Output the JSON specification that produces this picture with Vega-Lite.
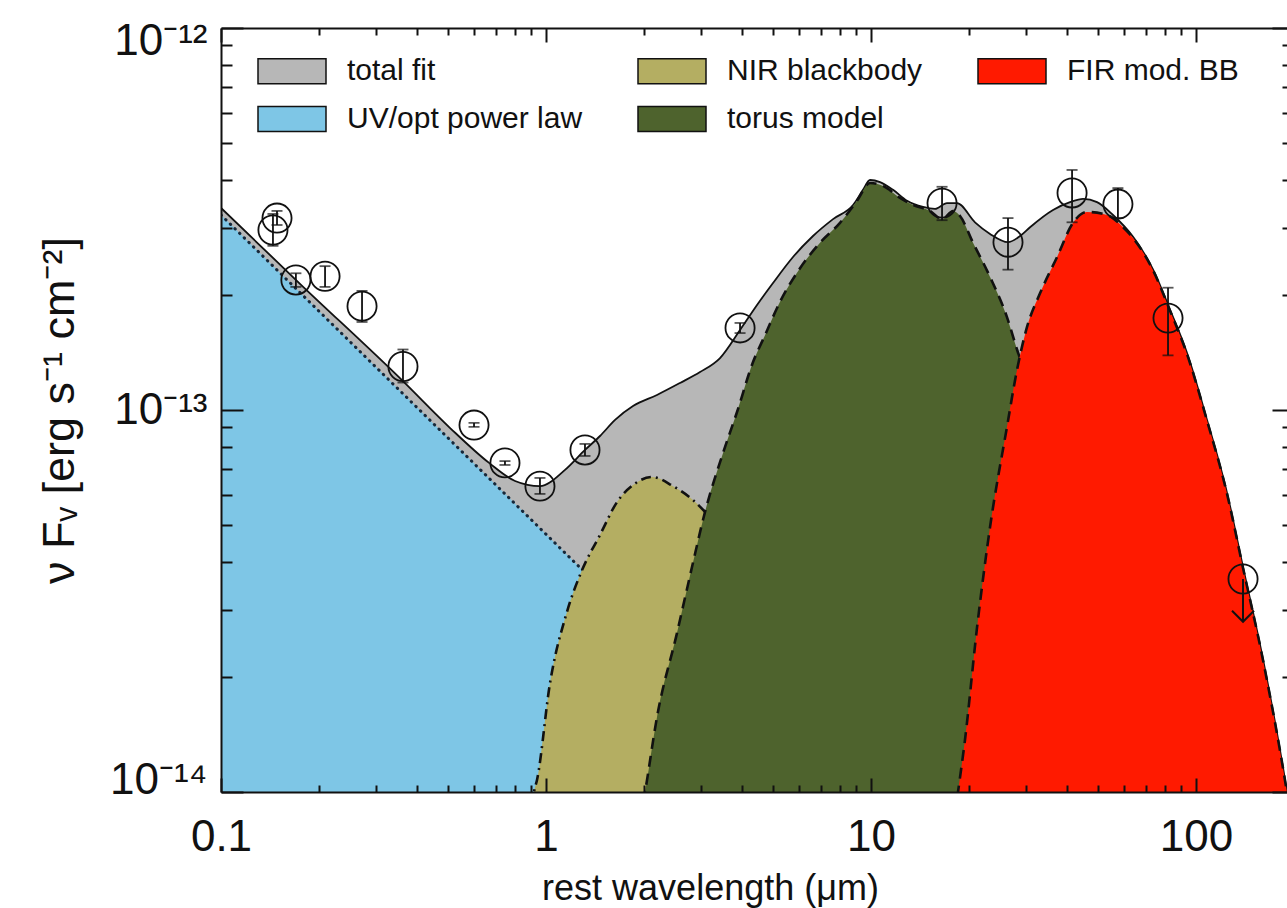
{
  "$schema": "https://vega.github.io/schema/vega-lite/v6.json",
  "width": 1066,
  "height": 764,
  "autosize": {"type": "none"},
  "padding": {"left": 221, "top": 28, "right": 0, "bottom": 116},
  "background": "white",
  "config": {"view": {"stroke": null}, "font": "Liberation Sans"},
  "datasets": {
    "curves": [
      {"comp": "total fit", "lam": 0.1, "f": 3.38e-13},
      {"comp": "total fit", "lam": 0.175, "f": 2.14e-13},
      {"comp": "total fit", "lam": 0.363, "f": 1.19e-13},
      {"comp": "total fit", "lam": 0.507, "f": 8.97e-14},
      {"comp": "total fit", "lam": 0.668, "f": 7.27e-14},
      {"comp": "total fit", "lam": 0.803, "f": 6.52e-14},
      {"comp": "total fit", "lam": 0.958, "f": 6.32e-14},
      {"comp": "total fit", "lam": 1.144, "f": 6.97e-14},
      {"comp": "total fit", "lam": 1.318, "f": 7.86e-14},
      {"comp": "total fit", "lam": 1.466, "f": 8.55e-14},
      {"comp": "total fit", "lam": 1.631, "f": 9.42e-14},
      {"comp": "total fit", "lam": 1.852, "f": 1.024e-13},
      {"comp": "total fit", "lam": 2.195, "f": 1.095e-13},
      {"comp": "total fit", "lam": 2.584, "f": 1.177e-13},
      {"comp": "total fit", "lam": 2.977, "f": 1.257e-13},
      {"comp": "total fit", "lam": 3.431, "f": 1.368e-13},
      {"comp": "total fit", "lam": 3.954, "f": 1.62e-13},
      {"comp": "total fit", "lam": 4.459, "f": 1.883e-13},
      {"comp": "total fit", "lam": 4.994, "f": 2.15e-13},
      {"comp": "total fit", "lam": 5.754, "f": 2.515e-13},
      {"comp": "total fit", "lam": 6.629, "f": 2.854e-13},
      {"comp": "total fit", "lam": 7.641, "f": 3.16e-13},
      {"comp": "total fit", "lam": 8.805, "f": 3.44e-13},
      {"comp": "total fit", "lam": 9.449, "f": 3.77e-13},
      {"comp": "total fit", "lam": 9.929, "f": 4.0e-13},
      {"comp": "total fit", "lam": 10.66, "f": 3.95e-13},
      {"comp": "total fit", "lam": 11.69, "f": 3.77e-13},
      {"comp": "total fit", "lam": 12.91, "f": 3.53e-13},
      {"comp": "total fit", "lam": 14.45, "f": 3.40e-13},
      {"comp": "total fit", "lam": 15.74, "f": 3.36e-13},
      {"comp": "total fit", "lam": 17.13, "f": 3.48e-13},
      {"comp": "total fit", "lam": 18.39, "f": 3.48e-13},
      {"comp": "total fit", "lam": 20.89, "f": 3.10e-13},
      {"comp": "total fit", "lam": 23.24, "f": 2.89e-13},
      {"comp": "total fit", "lam": 26.39, "f": 2.75e-13},
      {"comp": "total fit", "lam": 28.74, "f": 2.854e-13},
      {"comp": "total fit", "lam": 30.85, "f": 3.01e-13},
      {"comp": "total fit", "lam": 36.31, "f": 3.34e-13},
      {"comp": "total fit", "lam": 40.96, "f": 3.50e-13},
      {"comp": "total fit", "lam": 44.91, "f": 3.57e-13},
      {"comp": "total fit", "lam": 49.59, "f": 3.50e-13},
      {"comp": "total fit", "lam": 55.53, "f": 3.24e-13},
      {"comp": "total fit", "lam": 64.01, "f": 2.84e-13},
      {"comp": "total fit", "lam": 73.77, "f": 2.33e-13},
      {"comp": "total fit", "lam": 83.18, "f": 1.83e-13},
      {"comp": "total fit", "lam": 93.83, "f": 1.41e-13},
      {"comp": "total fit", "lam": 108.1, "f": 9.42e-14},
      {"comp": "total fit", "lam": 124.6, "f": 6.06e-14},
      {"comp": "total fit", "lam": 139.5, "f": 3.88e-14},
      {"comp": "total fit", "lam": 160.8, "f": 2.22e-14},
      {"comp": "total fit", "lam": 190.5, "f": 1.0e-14},
      {"comp": "total fit", "lam": 208.9, "f": 5.9e-15},

      {"comp": "UV/opt power law", "lam": 0.1, "f": 3.24e-13},
      {"comp": "UV/opt power law", "lam": 1.0, "f": 4.73e-14},
      {"comp": "UV/opt power law", "lam": 2.5, "f": 2.20e-14},

      {"comp": "NIR blackbody", "lam": 0.8805, "f": 7.05e-15},
      {"comp": "NIR blackbody", "lam": 0.9185, "f": 1.0e-14},
      {"comp": "NIR blackbody", "lam": 0.9382, "f": 1.075e-14},
      {"comp": "NIR blackbody", "lam": 1.029, "f": 1.93e-14},
      {"comp": "NIR blackbody", "lam": 1.16, "f": 2.96e-14},
      {"comp": "NIR blackbody", "lam": 1.291, "f": 3.81e-14},
      {"comp": "NIR blackbody", "lam": 1.466, "f": 4.71e-14},
      {"comp": "NIR blackbody", "lam": 1.654, "f": 5.74e-14},
      {"comp": "NIR blackbody", "lam": 1.852, "f": 6.36e-14},
      {"comp": "NIR blackbody", "lam": 2.12, "f": 6.68e-14},
      {"comp": "NIR blackbody", "lam": 2.459, "f": 6.32e-14},
      {"comp": "NIR blackbody", "lam": 2.834, "f": 5.81e-14},
      {"comp": "NIR blackbody", "lam": 3.085, "f": 5.41e-14},
      {"comp": "NIR blackbody", "lam": 3.431, "f": 4.85e-14},
      {"comp": "NIR blackbody", "lam": 3.954, "f": 4.15e-14},
      {"comp": "NIR blackbody", "lam": 4.89, "f": 3.18e-14},
      {"comp": "NIR blackbody", "lam": 6.047, "f": 2.22e-14},
      {"comp": "NIR blackbody", "lam": 7.478, "f": 1.45e-14},
      {"comp": "NIR blackbody", "lam": 9.25, "f": 8.97e-15},

      {"comp": "torus model", "lam": 1.946, "f": 8.45e-15},
      {"comp": "torus model", "lam": 2.017, "f": 1.0e-14},
      {"comp": "torus model", "lam": 2.195, "f": 1.57e-14},
      {"comp": "torus model", "lam": 2.53, "f": 2.61e-14},
      {"comp": "torus model", "lam": 2.813, "f": 3.88e-14},
      {"comp": "torus model", "lam": 3.085, "f": 5.41e-14},
      {"comp": "torus model", "lam": 3.505, "f": 7.72e-14},
      {"comp": "torus model", "lam": 3.87, "f": 9.88e-14},
      {"comp": "torus model", "lam": 4.335, "f": 1.335e-13},
      {"comp": "torus model", "lam": 4.719, "f": 1.57e-13},
      {"comp": "torus model", "lam": 5.248, "f": 1.92e-13},
      {"comp": "torus model", "lam": 6.047, "f": 2.35e-13},
      {"comp": "torus model", "lam": 6.967, "f": 2.74e-13},
      {"comp": "torus model", "lam": 8.027, "f": 3.09e-13},
      {"comp": "torus model", "lam": 9.056, "f": 3.53e-13},
      {"comp": "torus model", "lam": 9.929, "f": 3.93e-13},
      {"comp": "torus model", "lam": 10.89, "f": 3.86e-13},
      {"comp": "torus model", "lam": 12.28, "f": 3.59e-13},
      {"comp": "torus model", "lam": 13.47, "f": 3.44e-13},
      {"comp": "torus model", "lam": 15.19, "f": 3.32e-13},
      {"comp": "torus model", "lam": 16.54, "f": 3.16e-13},
      {"comp": "torus model", "lam": 17.88, "f": 3.32e-13},
      {"comp": "torus model", "lam": 18.79, "f": 3.22e-13},
      {"comp": "torus model", "lam": 20.6, "f": 2.74e-13},
      {"comp": "torus model", "lam": 23.24, "f": 2.23e-13},
      {"comp": "torus model", "lam": 26.2, "f": 1.75e-13},
      {"comp": "torus model", "lam": 28.13, "f": 1.44e-13},
      {"comp": "torus model", "lam": 31.96, "f": 1.06e-13},
      {"comp": "torus model", "lam": 36.83, "f": 6.97e-14},
      {"comp": "torus model", "lam": 43.97, "f": 4.05e-14},
      {"comp": "torus model", "lam": 54.38, "f": 1.96e-14},
      {"comp": "torus model", "lam": 64.92, "f": 9.53e-15},

      {"comp": "FIR mod. BB", "lam": 17.5, "f": 7.05e-15},
      {"comp": "FIR mod. BB", "lam": 18.52, "f": 1.0e-14},
      {"comp": "FIR mod. BB", "lam": 19.46, "f": 1.37e-14},
      {"comp": "FIR mod. BB", "lam": 21.2, "f": 2.70e-14},
      {"comp": "FIR mod. BB", "lam": 23.24, "f": 4.94e-14},
      {"comp": "FIR mod. BB", "lam": 26.2, "f": 9.03e-14},
      {"comp": "FIR mod. BB", "lam": 28.13, "f": 1.273e-13},
      {"comp": "FIR mod. BB", "lam": 30.2, "f": 1.65e-13},
      {"comp": "FIR mod. BB", "lam": 33.11, "f": 2.02e-13},
      {"comp": "FIR mod. BB", "lam": 37.36, "f": 2.515e-13},
      {"comp": "FIR mod. BB", "lam": 41.83, "f": 3.09e-13},
      {"comp": "FIR mod. BB", "lam": 46.2, "f": 3.30e-13},
      {"comp": "FIR mod. BB", "lam": 53.24, "f": 3.24e-13},
      {"comp": "FIR mod. BB", "lam": 59.64, "f": 3.01e-13},
      {"comp": "FIR mod. BB", "lam": 64.01, "f": 2.82e-13},
      {"comp": "FIR mod. BB", "lam": 73.77, "f": 2.32e-13},
      {"comp": "FIR mod. BB", "lam": 83.18, "f": 1.82e-13},
      {"comp": "FIR mod. BB", "lam": 93.83, "f": 1.40e-13},
      {"comp": "FIR mod. BB", "lam": 108.1, "f": 9.38e-14},
      {"comp": "FIR mod. BB", "lam": 124.6, "f": 6.03e-14},
      {"comp": "FIR mod. BB", "lam": 139.5, "f": 3.86e-14},
      {"comp": "FIR mod. BB", "lam": 160.8, "f": 2.21e-14},
      {"comp": "FIR mod. BB", "lam": 190.5, "f": 9.95e-15},
      {"comp": "FIR mod. BB", "lam": 208.9, "f": 5.85e-15}
    ],
    "points": [
      {"lam": 0.1487, "f": 3.18e-13, "lo": 3.05e-13, "hi": 3.32e-13},
      {"lam": 0.1445, "f": 2.96e-13, "lo": 2.69e-13, "hi": 3.26e-13},
      {"lam": 0.170, "f": 2.19e-13, "lo": 2.10e-13, "hi": 2.28e-13},
      {"lam": 0.209, "f": 2.24e-13, "lo": 2.10e-13, "hi": 2.38e-13},
      {"lam": 0.2716, "f": 1.87e-13, "lo": 1.70e-13, "hi": 2.05e-13},
      {"lam": 0.363, "f": 1.30e-13, "lo": 1.18e-13, "hi": 1.44e-13},
      {"lam": 0.6005, "f": 9.13e-14, "lo": 9.03e-14, "hi": 9.25e-14},
      {"lam": 0.7477, "f": 7.27e-14, "lo": 7.18e-14, "hi": 7.35e-14},
      {"lam": 0.958, "f": 6.32e-14, "lo": 6.03e-14, "hi": 6.64e-14},
      {"lam": 1.318, "f": 7.86e-14, "lo": 7.58e-14, "hi": 8.15e-14},
      {"lam": 3.954, "f": 1.64e-13, "lo": 1.59e-13, "hi": 1.69e-13},
      {"lam": 16.54, "f": 3.48e-13, "lo": 3.14e-13, "hi": 3.84e-13},
      {"lam": 26.39, "f": 2.75e-13, "lo": 2.33e-13, "hi": 3.18e-13},
      {"lam": 41.55, "f": 3.70e-13, "lo": 3.10e-13, "hi": 4.25e-13},
      {"lam": 57.5, "f": 3.46e-13, "lo": 3.18e-13, "hi": 3.81e-13},
      {"lam": 82.0, "f": 1.74e-13, "lo": 1.39e-13, "hi": 2.09e-13}
    ],
    "limits": [
      {"lam": 139.5, "f": 3.61e-14, "tip": 2.79e-14}
    ]
  },
  "resolve": {"axis": {"x": "independent", "y": "independent"}, "scale": {"x": "shared", "y": "shared"}},
  "layer": [
    {
      "data": {"name": "curves"},
      "transform": [{"filter": "datum.comp === 'total fit'"}],
      "mark": {"type": "area", "clip": true, "interpolate": "monotone", "opacity": 1},
      "encoding": {
        "x": {"field": "lam", "type": "quantitative", "scale": {"type": "log", "domain": [0.1, 190.5], "nice": false},
          "axis": {"orient": "bottom", "values": [0.1, 1, 10, 100], "format": "~g", "labelFont": "Liberation Sans", "labelFontSize": 44, "labelColor": "#111", "labelPadding": 23, "labelFlush": false, "labelOverlap": false, "ticks": false, "tickSize": 0, "domain": true, "domainColor": "#111", "domainWidth": 2, "grid": false,
            "title": "rest wavelength (μm)", "titleFont": "Liberation Sans", "titleFontSize": 36, "titleFontWeight": "normal", "titleColor": "#111", "titleX": 489, "titleY": 107, "titleAlign": "center", "titleBaseline": "alphabetic", "titleAnchor": null, "zindex": 2}},
        "y": {"field": "f", "type": "quantitative", "scale": {"type": "log", "domain": [1e-14, 1e-12], "nice": false},
          "axis": {"orient": "left", "values": [1e-14, 1e-13, 1e-12], "labelExpr": "datum.value > 5e-13 ? '10⁻¹²' : (datum.value > 5e-14 ? '10⁻¹³' : '10⁻¹⁴')", "labelFont": "Liberation Sans", "labelFontSize": 44, "labelColor": "#111", "labelPadding": 14, "labelAlign": "right", "labelBaseline": "middle", "labelFlush": false, "labelOverlap": false,
            "labelOffset": {"condition": [{"test": "datum.value > 5e-13", "value": 13}, {"test": "datum.value < 5e-14", "value": -12}], "value": 0},
            "ticks": false, "tickSize": 0, "domain": true, "domainColor": "#111", "domainWidth": 2, "grid": false,
            "title": "ν Fᵥ [erg s⁻¹ cm⁻²]", "titleFont": "Liberation Sans", "titleFontSize": 45, "titleFontWeight": "normal", "titleColor": "#111", "titleAngle": -90, "titleX": -148, "titleY": 382, "titleAlign": "center", "titleBaseline": "alphabetic", "zindex": 2}},
        "y2": {"datum": 1e-14},
        "color": {"field": "comp", "type": "nominal",
          "scale": {"domain": ["total fit", "UV/opt power law", "NIR blackbody", "torus model", "FIR mod. BB"], "range": ["#b7b7b7", "#7ec6e6", "#b4ae62", "#4e632d", "#ff1a00"]},
          "legend": {"orient": "none", "legendX": 35, "legendY": 28, "columns": 3, "title": null, "symbolType": "M-2.72,-1H2.72V1H-2.72Z", "symbolSize": 625, "symbolStrokeColor": "#111", "symbolStrokeWidth": 1.5, "symbolOpacity": 1, "symbolOffset": 21, "labelFont": "Liberation Sans", "labelFontSize": 30, "labelColor": "#111", "labelOffset": 40, "labelLimit": 500, "rowPadding": 16, "columnPadding": 52, "padding": 0, "gridAlign": "each", "zindex": 2}}
      }
    },
    {
      "data": {"name": "curves"},
      "transform": [{"filter": "datum.comp === 'total fit'"}],
      "mark": {"type": "line", "clip": true, "interpolate": "monotone", "color": "#111", "strokeWidth": 1.8},
      "encoding": {
        "x": {"field": "lam", "type": "quantitative", "scale": {"type": "log", "domain": [0.1, 190.5], "nice": false},
          "axis": {"orient": "bottom", "values": [0.1, 1, 10, 100], "labels": false, "domain": false, "grid": false, "ticks": true, "tickSize": -14, "tickWidth": 2, "tickColor": "#111", "title": null, "zindex": 2}},
        "y": {"field": "f", "type": "quantitative", "scale": {"type": "log", "domain": [1e-14, 1e-12], "nice": false},
          "axis": {"orient": "left", "values": [1e-14, 1e-13, 1e-12], "labels": false, "domain": false, "grid": false, "ticks": true, "tickSize": -22, "tickWidth": 2, "tickColor": "#111", "title": null, "zindex": 2}}
      }
    },
    {
      "data": {"name": "curves"},
      "transform": [{"filter": "datum.comp === 'UV/opt power law'"}],
      "mark": {"type": "area", "clip": true, "opacity": 1},
      "encoding": {
        "x": {"field": "lam", "type": "quantitative", "scale": {"type": "log", "domain": [0.1, 190.5], "nice": false},
          "axis": {"orient": "bottom", "values": [0.2, 0.3, 0.4, 0.5, 0.6, 0.7, 0.8, 0.9, 2, 3, 4, 5, 6, 7, 8, 9, 20, 30, 40, 50, 60, 70, 80, 90], "labels": false, "domain": false, "grid": false, "ticks": true, "tickSize": -7, "tickWidth": 2, "tickColor": "#111", "title": null, "zindex": 2}},
        "y": {"field": "f", "type": "quantitative", "scale": {"type": "log", "domain": [1e-14, 1e-12], "nice": false},
          "axis": {"orient": "left", "values": [2e-14, 3e-14, 4e-14, 5e-14, 6e-14, 7e-14, 8e-14, 9e-14, 2e-13, 3e-13, 4e-13, 5e-13, 6e-13, 7e-13, 8e-13, 9e-13], "labels": false, "domain": false, "grid": false, "ticks": true, "tickSize": -11, "tickWidth": 2, "tickColor": "#111", "title": null, "zindex": 2}},
        "y2": {"datum": 1e-14},
        "color": {"field": "comp", "type": "nominal", "legend": null}
      }
    },
    {
      "data": {"name": "curves"},
      "transform": [{"filter": "datum.comp === 'UV/opt power law'"}],
      "mark": {"type": "line", "clip": true, "color": "#16283a", "strokeWidth": 3, "strokeDash": [0.5, 6], "strokeCap": "round"},
      "encoding": {
        "x": {"field": "lam", "type": "quantitative", "scale": {"type": "log", "domain": [0.1, 190.5], "nice": false},
          "axis": {"orient": "top", "values": [0.1, 1, 10, 100], "labels": false, "domain": true, "domainColor": "#111", "domainWidth": 2, "grid": false, "ticks": true, "tickSize": -14, "tickWidth": 2, "tickColor": "#111", "title": null, "zindex": 2}},
        "y": {"field": "f", "type": "quantitative", "scale": {"type": "log", "domain": [1e-14, 1e-12], "nice": false},
          "axis": {"orient": "right", "values": [1e-14, 1e-13, 1e-12], "labels": false, "domain": false, "grid": false, "ticks": true, "tickSize": -15, "tickWidth": 2, "tickColor": "#111", "title": null, "zindex": 2}}
      }
    },
    {
      "data": {"name": "curves"},
      "transform": [{"filter": "datum.comp === 'NIR blackbody'"}],
      "mark": {"type": "area", "clip": true, "interpolate": "monotone", "opacity": 1},
      "encoding": {
        "x": {"field": "lam", "type": "quantitative", "scale": {"type": "log", "domain": [0.1, 190.5], "nice": false},
          "axis": {"orient": "top", "values": [0.2, 0.3, 0.4, 0.5, 0.6, 0.7, 0.8, 0.9, 2, 3, 4, 5, 6, 7, 8, 9, 20, 30, 40, 50, 60, 70, 80, 90], "labels": false, "domain": false, "grid": false, "ticks": true, "tickSize": -7, "tickWidth": 2, "tickColor": "#111", "title": null, "zindex": 2}},
        "y": {"field": "f", "type": "quantitative", "scale": {"type": "log", "domain": [1e-14, 1e-12], "nice": false},
          "axis": {"orient": "right", "values": [2e-14, 3e-14, 4e-14, 5e-14, 6e-14, 7e-14, 8e-14, 9e-14, 2e-13, 3e-13, 4e-13, 5e-13, 6e-13, 7e-13, 8e-13, 9e-13], "labels": false, "domain": false, "grid": false, "ticks": true, "tickSize": -5, "tickWidth": 2, "tickColor": "#111", "title": null, "zindex": 2}},
        "y2": {"datum": 1e-14},
        "color": {"field": "comp", "type": "nominal", "legend": null}
      }
    },
    {
      "data": {"name": "curves"},
      "transform": [{"filter": "datum.comp === 'NIR blackbody'"}],
      "mark": {"type": "line", "clip": true, "interpolate": "monotone", "color": "#111", "strokeWidth": 2.6, "strokeDash": [10, 5, 2, 5]},
      "encoding": {
        "x": {"field": "lam", "type": "quantitative", "scale": {"type": "log", "domain": [0.1, 190.5], "nice": false}, "axis": null},
        "y": {"field": "f", "type": "quantitative", "scale": {"type": "log", "domain": [1e-14, 1e-12], "nice": false}, "axis": null}
      }
    },
    {
      "data": {"name": "curves"},
      "transform": [{"filter": "datum.comp === 'torus model'"}],
      "mark": {"type": "area", "clip": true, "interpolate": "monotone", "opacity": 1},
      "encoding": {
        "x": {"field": "lam", "type": "quantitative", "scale": {"type": "log", "domain": [0.1, 190.5], "nice": false}, "axis": null},
        "y": {"field": "f", "type": "quantitative", "scale": {"type": "log", "domain": [1e-14, 1e-12], "nice": false}, "axis": null},
        "y2": {"datum": 1e-14},
        "color": {"field": "comp", "type": "nominal", "legend": null}
      }
    },
    {
      "data": {"name": "curves"},
      "transform": [{"filter": "datum.comp === 'torus model'"}],
      "mark": {"type": "line", "clip": true, "interpolate": "monotone", "color": "#111", "strokeWidth": 2.6, "strokeDash": [11, 7]},
      "encoding": {
        "x": {"field": "lam", "type": "quantitative", "scale": {"type": "log", "domain": [0.1, 190.5], "nice": false}, "axis": null},
        "y": {"field": "f", "type": "quantitative", "scale": {"type": "log", "domain": [1e-14, 1e-12], "nice": false}, "axis": null}
      }
    },
    {
      "data": {"name": "curves"},
      "transform": [{"filter": "datum.comp === 'FIR mod. BB'"}],
      "mark": {"type": "area", "clip": true, "interpolate": "monotone", "opacity": 1},
      "encoding": {
        "x": {"field": "lam", "type": "quantitative", "scale": {"type": "log", "domain": [0.1, 190.5], "nice": false}, "axis": null},
        "y": {"field": "f", "type": "quantitative", "scale": {"type": "log", "domain": [1e-14, 1e-12], "nice": false}, "axis": null},
        "y2": {"datum": 1e-14},
        "color": {"field": "comp", "type": "nominal", "legend": null}
      }
    },
    {
      "data": {"name": "curves"},
      "transform": [{"filter": "datum.comp === 'FIR mod. BB'"}],
      "mark": {"type": "line", "clip": true, "interpolate": "monotone", "color": "#111", "strokeWidth": 2.6, "strokeDash": [11, 7]},
      "encoding": {
        "x": {"field": "lam", "type": "quantitative", "scale": {"type": "log", "domain": [0.1, 190.5], "nice": false}, "axis": null},
        "y": {"field": "f", "type": "quantitative", "scale": {"type": "log", "domain": [1e-14, 1e-12], "nice": false}, "axis": null}
      }
    },
    {
      "data": {"name": "points"},
      "mark": {"type": "errorbar", "ticks": {"color": "#111"}, "rule": {"color": "#111"}, "size": 11, "thickness": 1.8},
      "encoding": {
        "x": {"field": "lam", "type": "quantitative", "scale": {"type": "log", "domain": [0.1, 190.5], "nice": false}, "axis": null},
        "y": {"field": "lo", "type": "quantitative", "scale": {"type": "log", "domain": [1e-14, 1e-12], "nice": false}, "axis": null},
        "y2": {"field": "hi"}
      }
    },
    {
      "data": {"name": "points"},
      "mark": {"type": "point", "shape": "circle", "filled": false, "size": 850, "stroke": "#111", "strokeWidth": 1.8, "opacity": 1},
      "encoding": {
        "x": {"field": "lam", "type": "quantitative", "scale": {"type": "log", "domain": [0.1, 190.5], "nice": false}, "axis": null},
        "y": {"field": "f", "type": "quantitative", "scale": {"type": "log", "domain": [1e-14, 1e-12], "nice": false}, "axis": null}
      }
    },
    {
      "data": {"name": "limits"},
      "mark": {"type": "point", "shape": "circle", "filled": false, "size": 850, "stroke": "#111", "strokeWidth": 1.8, "opacity": 1},
      "encoding": {
        "x": {"field": "lam", "type": "quantitative", "scale": {"type": "log", "domain": [0.1, 190.5], "nice": false}, "axis": null},
        "y": {"field": "f", "type": "quantitative", "scale": {"type": "log", "domain": [1e-14, 1e-12], "nice": false}, "axis": null}
      }
    },
    {
      "data": {"name": "limits"},
      "mark": {"type": "rule", "color": "#111", "strokeWidth": 2},
      "encoding": {
        "x": {"field": "lam", "type": "quantitative", "scale": {"type": "log", "domain": [0.1, 190.5], "nice": false}, "axis": null},
        "y": {"field": "f", "type": "quantitative", "scale": {"type": "log", "domain": [1e-14, 1e-12], "nice": false}, "axis": null},
        "y2": {"field": "tip"}
      }
    },
    {
      "data": {"name": "limits"},
      "mark": {"type": "point", "shape": "M-1,-1L0,0L1,-1", "filled": false, "size": 484, "stroke": "#111", "strokeWidth": 2, "opacity": 1},
      "encoding": {
        "x": {"field": "lam", "type": "quantitative", "scale": {"type": "log", "domain": [0.1, 190.5], "nice": false}, "axis": null},
        "y": {"field": "tip", "type": "quantitative", "scale": {"type": "log", "domain": [1e-14, 1e-12], "nice": false}, "axis": null}
      }
    }
  ]
}
